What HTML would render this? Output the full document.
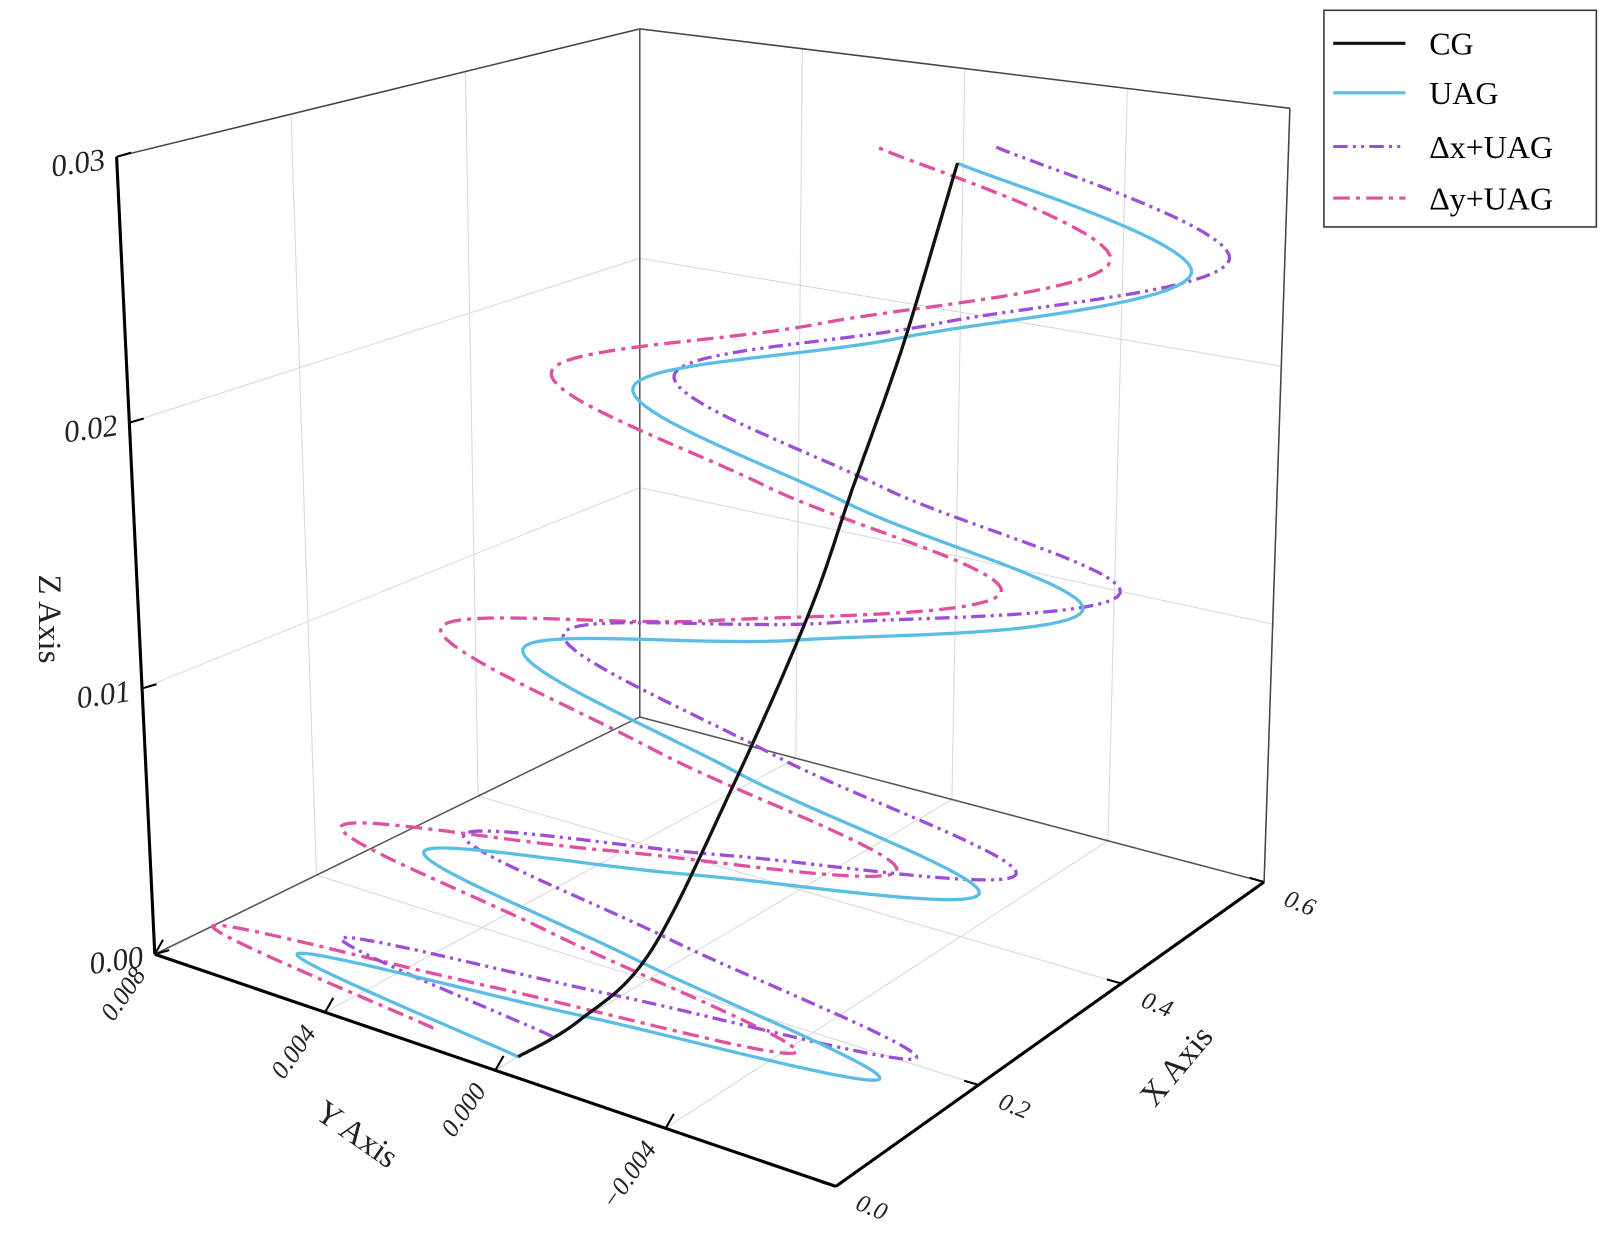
<!DOCTYPE html>
<html><head><meta charset="utf-8">
<style>
html,body{margin:0;padding:0;background:#fff;}
svg{display:block;font-family:"Liberation Serif",serif;}
</style></head>
<body>
<svg id="chart" width="1617" height="1240" viewBox="0 0 1567 1202" preserveAspectRatio="none" xmlns="http://www.w3.org/2000/svg">
<g id="grid"></g>
<g id="box"></g>
<g id="series"></g>
<g id="labels"></g>
<g>
<rect x="1283" y="10" width="264" height="210" fill="#fff" stroke="#333" stroke-width="1.5"/>
<g><line x1="1292" y1="42" x2="1362" y2="42" stroke="#111" stroke-width="3"/><text x="1385" y="53" font-size="31">CG</text></g>
<g><line x1="1292" y1="90" x2="1362" y2="90" stroke="#5bbde6" stroke-width="3"/><text x="1385" y="101" font-size="31">UAG</text></g>
<g><line x1="1292" y1="142" x2="1362" y2="142" stroke="#9b4fd8" stroke-width="3" stroke-dasharray="14 5 3 5 3 5"/><text x="1385" y="153" font-size="31">Δx+UAG</text></g>
<g><line x1="1292" y1="192" x2="1362" y2="192" stroke="#e0509f" stroke-width="3" stroke-dasharray="16 6 4 6"/><text x="1385" y="203" font-size="31">Δy+UAG</text></g>
</g>
</svg>
<script>
// ---- data ----
const xTicks = [0.0, 0.2, 0.4, 0.6];
const yTicks = [0.008, 0.004, 0.000, -0.004];
const zTicks = [0.00, 0.01, 0.02, 0.03];
const xTickLabels = ["0.0", "0.2", "0.4", "0.6"];
const yTickLabels = ["0.008", "0.004", "0.000", "−0.004"];
const zTickLabels = ["0.00", "0.01", "0.02", "0.03"];

const cgX = [0.03, 0.11, 0.205, 0.316, 0.409, 0.464, 0.529, 0.593];
const cgY = [0, 0, 0, 0, 0, 0, 0, 0];
const cgZ = [0, 0, 0.001, 0.0056, 0.0105, 0.0146, 0.0197, 0.0262];

const uagX = [0.03, 0.072, 0.11, 0.149, 0.185, 0.222, 0.256, 0.290, 0.32, 0.349, 0.393, 0.437, 0.459, 0.481, 0.527, 0.573, 0.593];
const uagY = [0, 0.0060, 0, -0.0065, 0, 0.0058, 0, -0.0064, 0, 0.0058, 0, -0.0062, 0, 0.0057, 0, -0.0062, 0];
const uagZ = [0, 0, 0.0002, 0.0004, 0.001, 0.0017, 0.003, 0.0045, 0.0058, 0.0078, 0.0098, 0.0125, 0.0142, 0.0167, 0.0199, 0.0235, 0.0262];

const dxX = [0.075, 0.117, 0.155, 0.194, 0.23, 0.267, 0.301, 0.335, 0.365, 0.394, 0.438, 0.482, 0.504, 0.526, 0.572, 0.618, 0.638];
const dxY = [0, 0.0058, 0, -0.0066, 0, 0.0057, 0, -0.0065, 0, 0.0057, 0, -0.0063, 0, 0.0056, 0, -0.0063, 0];
const dxZ = [0, 0, 0.0002, 0.0004, 0.001, 0.0017, 0.003, 0.0045, 0.0058, 0.0078, 0.0098, 0.0125, 0.0142, 0.0167, 0.0199, 0.0235, 0.0264];

const dyX = [0.03, 0.072, 0.11, 0.149, 0.185, 0.222, 0.256, 0.290, 0.32, 0.349, 0.393, 0.437, 0.459, 0.481, 0.527, 0.573, 0.593];
const dyY = [0.002, 0.0080, 0.002, -0.0045, 0.002, 0.0078, 0.002, -0.0044, 0.002, 0.0078, 0.002, -0.0042, 0.002, 0.0077, 0.002, -0.0042, 0.002];
const dyZ = [0, 0, 0.0002, 0.0004, 0.001, 0.0017, 0.003, 0.0045, 0.0058, 0.0078, 0.0098, 0.0125, 0.0142, 0.0167, 0.0199, 0.0235, 0.0264];

// ---- projection (box corners) ----
const XMIN=0, XMAX=0.6, YMIN=-0.008, YMAX=0.008, ZMIN=0, ZMAX=0.03;
const C = {
  b00:[810,1150], b01:[150,925], b10:[1225,855], b11:[620,695],
  t00:[815,265],  t01:[113,152], t10:[1250,105], t11:[620,28]
};
function lerp(a,b,t){return [a[0]+(b[0]-a[0])*t, a[1]+(b[1]-a[1])*t];}
function proj(x,y,z){
  const u=(x-XMIN)/(XMAX-XMIN), v=(y-YMIN)/(YMAX-YMIN), w=(z-ZMIN)/(ZMAX-ZMIN);
  const b=lerp(lerp(C.b00,C.b01,v), lerp(C.b10,C.b11,v), u);
  const t=lerp(lerp(C.t00,C.t01,v), lerp(C.t10,C.t11,v), u);
  return lerp(b,t,w);
}
const NS="http://www.w3.org/2000/svg";
function mk(tag, attrs, parent){
  const e=document.createElementNS(NS,tag);
  for(const k in attrs) e.setAttribute(k, attrs[k]);
  parent.appendChild(e); return e;
}
function line3(a,b,parent,stroke,width,name){
  const p=proj(...a), q=proj(...b);
  const e=mk('line',{x1:p[0],y1:p[1],x2:q[0],y2:q[1],stroke:stroke,'stroke-width':width},parent);
  
  
  return e;
}
const grid=document.getElementById('grid');
const box=document.getElementById('box');
const GC="#d8d8d8";
xTicks.forEach(x=>{ if(x>XMIN && x<XMAX){
  line3([x,YMAX,ZMIN],[x,YMAX,ZMAX],grid,GC,1,'grid-left-wall-x');
  line3([x,YMIN,ZMIN],[x,YMAX,ZMIN],grid,GC,1,'grid-floor-x');
}});
zTicks.forEach(z=>{ if(z>ZMIN && z<ZMAX){
  line3([XMIN,YMAX,z],[XMAX,YMAX,z],grid,GC,1,'grid-left-wall-z');
  line3([XMAX,YMAX,z],[XMAX,YMIN,z],grid,GC,1,'grid-right-wall-z');
}});
yTicks.forEach(y=>{ if(y>YMIN && y<YMAX){
  line3([XMAX,y,ZMIN],[XMAX,y,ZMAX],grid,GC,1,'grid-right-wall-y');
  line3([XMIN,y,ZMIN],[XMAX,y,ZMIN],grid,GC,1,'grid-floor-y');
}});
line3([XMIN,YMAX,ZMIN],[XMAX,YMAX,ZMIN],box,"#555",1.5,'floor-back-left-edge');
line3([XMAX,YMAX,ZMIN],[XMAX,YMIN,ZMIN],box,"#555",1.5,'floor-back-right-edge');
line3([XMAX,YMAX,ZMIN],[XMAX,YMAX,ZMAX],box,"#555",1.5,'back-vertical-edge');
line3([XMAX,YMIN,ZMIN],[XMAX,YMIN,ZMAX],box,"#444",1.5,'right-vertical-edge');
line3([XMIN,YMAX,ZMAX],[XMAX,YMAX,ZMAX],box,"#444",1.5,'top-left-edge');
line3([XMAX,YMAX,ZMAX],[XMAX,YMIN,ZMAX],box,"#444",1.5,'top-right-edge');
line3([XMIN,YMAX,ZMIN],[XMIN,YMAX,ZMAX],box,"#000",3,'z-axis-line');
line3([XMIN,YMAX,ZMIN],[XMIN,YMIN,ZMIN],box,"#000",3,'y-axis-line');
line3([XMIN,YMIN,ZMIN],[XMAX,YMIN,ZMIN],box,"#000",3,'x-axis-line');

const lab=document.getElementById('labels');
function text(x,y,str,size,rot,anchor,name,style){
  const t=mk('text',{x:x,y:y,'font-size':size,'text-anchor':anchor||'middle',fill:'#222',
    transform:'rotate('+rot+' '+x+' '+y+')'},lab);
  if(style) t.setAttribute('font-style',style);
  t.textContent=str;
  
  
  return t;
}
zTicks.forEach((z,i)=>{
  const p=proj(XMIN,YMAX,z);
  const tk=mk('line',{x1:p[0],y1:p[1],x2:p[0]+14,y2:p[1]-4,stroke:'#000','stroke-width':2},lab);
  
  
  text(p[0]-10,p[1]+12,zTickLabels[i],30,-8,'end','z-tick-label','italic');
});
yTicks.forEach((y,i)=>{
  const p=proj(XMIN,y,ZMIN);
  const tk=mk('line',{x1:p[0],y1:p[1],x2:p[0]+8,y2:p[1]-14,stroke:'#000','stroke-width':2},lab);
  
  
  text(p[0]-8,p[1]+20,yTickLabels[i],25,-55,'end','y-tick-label','italic');
});
xTicks.forEach((x,i)=>{
  const p=proj(x,YMIN,ZMIN);
  const tk=mk('line',{x1:p[0],y1:p[1],x2:p[0]-14,y2:p[1]-4,stroke:'#000','stroke-width':2},lab);
  
  
  text(p[0]+18,p[1]+22,xTickLabels[i],24,22,'start','x-tick-label','italic');
});
text(38,600,"Z Axis",32,90,'middle','z-axis-title');
text(340,1108,"Y Axis",32,35,'middle','y-axis-title');
text(1148,1040,"X Axis",32,-50,'middle','x-axis-title');

function pathFrom(xs,ys,zs){
  const n=xs.length, pts=[];
  const P=i=>[xs[Math.max(0,Math.min(n-1,i))],ys[Math.max(0,Math.min(n-1,i))],zs[Math.max(0,Math.min(n-1,i))]];
  for(let i=0;i<n-1;i++){
    const p0=P(i-1),p1=P(i),p2=P(i+1),p3=P(i+2);
    for(let s=0;s<20;s++){
      const t=s/20,t2=t*t,t3=t2*t;
      const c=k=>0.5*((2*p1[k])+(-p0[k]+p2[k])*t+(2*p0[k]-5*p1[k]+4*p2[k]-p3[k])*t2+(-p0[k]+3*p1[k]-3*p2[k]+p3[k])*t3);
      pts.push(proj(c(0),c(1),c(2)));
    }
  }
  pts.push(proj(...P(n-1)));
  return 'M'+pts.map(p=>p[0].toFixed(1)+','+p[1].toFixed(1)).join('L');
}
const sg=document.getElementById('series');
function series(xs,ys,zs,color,dash,name){
  const e=mk('path',{d:pathFrom(xs,ys,zs),fill:'none',stroke:color,'stroke-width':3.2,'stroke-linejoin':'round'},sg);
  if(dash) e.setAttribute('stroke-dasharray',dash);
  
  
}
series(dyX,dyY,dyZ,'#e0509f','16 6 4 6','series-dy-uag');
series(dxX,dxY,dxZ,'#9b4fd8','14 5 3 5 3 5','series-dx-uag');
series(uagX,uagY,uagZ,'#5bbde6',null,'series-uag');
series(cgX,cgY,cgZ,'#111',null,'series-cg');
</script>
</body></html>
